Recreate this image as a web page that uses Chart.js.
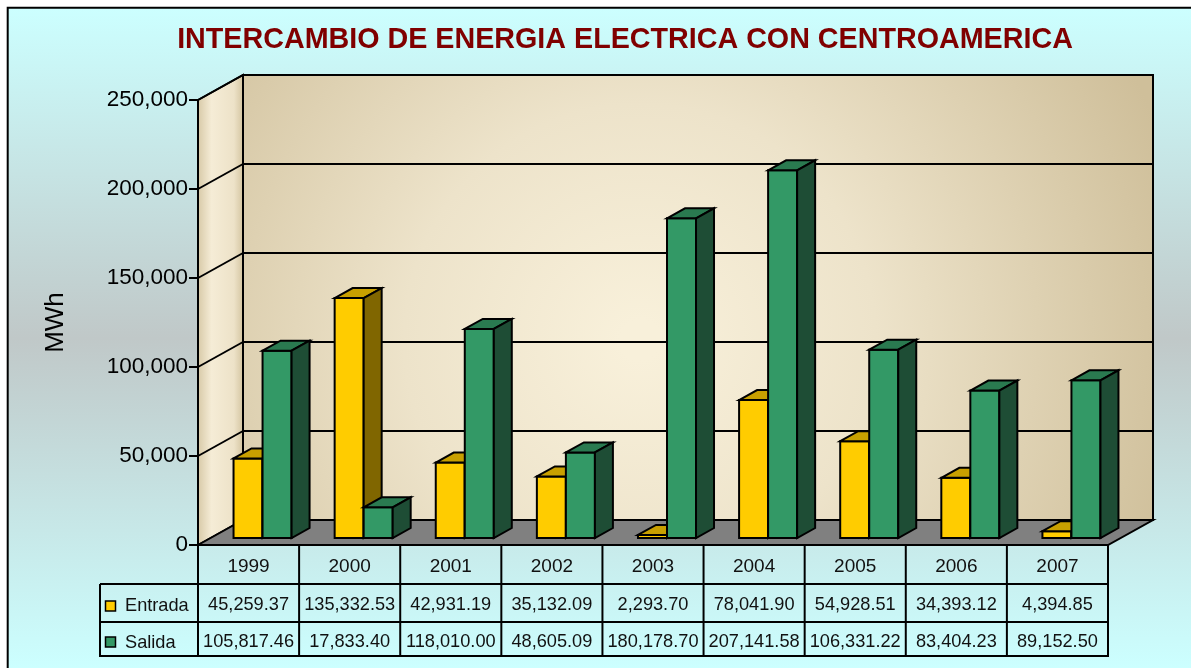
<!DOCTYPE html>
<html>
<head>
<meta charset="utf-8">
<title>Intercambio de energia electrica con Centroamerica</title>
<script src="https://cdn.jsdelivr.net/npm/chart.js@4.4.0/dist/chart.umd.min.js"></script>
<style>
  html, body { margin: 0; padding: 0; background: #fff; }
  #graphCanvas { display: block; }
</style>
</head>
<body>
<canvas id="graphCanvas" width="1191" height="668"></canvas>
<script>
// datos (MWh)
var years = ['1999', '2000', '2001', '2002', '2003', '2004', '2005', '2006', '2007'];
var entrada = [45259.37, 135332.53, 42931.19, 35132.09, 2293.70, 78041.90, 54928.51, 34393.12, 4394.85];
var salida = [105817.46, 17833.40, 118010.00, 48605.09, 180178.70, 207141.58, 106331.22, 83404.23, 89152.50];
var yTicks = [0, 50000, 100000, 150000, 200000, 250000];
var seriesNames = ['Entrada', 'Salida'];

var FONT = '"Liberation Sans", Arial, sans-serif';
// profundidad de las paredes y de las barras
var DX = 45, DY = -25;
var SX = 14, SY = -6;
var BDX = 18, BDY = -10;

var colors = [
    { front: '#FFCC00', top: '#C8A000', side: '#806600' },
    { front: '#339966', top: '#2A7A50', side: '#1E4D35' }
];

function fmt(v, dec) {
    return v.toLocaleString('en-US', { minimumFractionDigits: dec, maximumFractionDigits: dec });
}

function poly(ctx, pts, fill) {
    ctx.beginPath();
    ctx.moveTo(pts[0][0], pts[0][1]);
    for (var i = 1; i < pts.length; i++) ctx.lineTo(pts[i][0], pts[i][1]);
    ctx.closePath();
    if (fill) { ctx.fillStyle = fill; ctx.fill(); }
    ctx.stroke();
}

function line(ctx, x1, y1, x2, y2) {
    ctx.beginPath();
    ctx.moveTo(x1, y1);
    ctx.lineTo(x2, y2);
    ctx.stroke();
}

var backdrop = {
    id: 'backdrop',
    beforeDraw: function (chart) {
        var ctx = chart.ctx, W = chart.width, H = chart.height;
        var a = chart.chartArea, y = chart.scales.y;
        ctx.save();
        ctx.fillStyle = '#fff';
        ctx.fillRect(0, 0, W, H);
        var g = ctx.createLinearGradient(0, 8, 0, H);
        g.addColorStop(0, '#CCFFFF');
        g.addColorStop(0.5, '#C0C8C8');
        g.addColorStop(1, '#CCFFFF');
        ctx.fillStyle = g;
        ctx.fillRect(8, 8, W - 8, H - 8);
        ctx.strokeStyle = '#000';
        ctx.lineWidth = 2;
        ctx.beginPath();
        ctx.moveTo(7.7, H);
        ctx.lineTo(7.7, 7.7);
        ctx.lineTo(W, 7.7);
        ctx.stroke();

        var y0 = y.getPixelForValue(0), yT = y.getPixelForValue(250000);
        var xL = a.left, xR = a.right;
        ctx.lineWidth = 2;
        ctx.lineJoin = 'miter';

        // pared del fondo
        var rg = ctx.createRadialGradient(640, 340, 20, 640, 340, 560);
        rg.addColorStop(0, '#F8F0DA');
        rg.addColorStop(0.4, '#EDE3CA');
        rg.addColorStop(1, '#CFBF9A');
        poly(ctx, [[xL + DX, yT + DY], [xR + DX, yT + DY], [xR + DX, y0 + DY], [xL + DX, y0 + DY]], rg);

        // pared lateral
        var lg = ctx.createLinearGradient(xL, 0, xL + DX, 0);
        lg.addColorStop(0, '#D8CAA8');
        lg.addColorStop(0.3, '#F5ECD6');
        lg.addColorStop(0.8, '#EDE2C8');
        lg.addColorStop(1, '#D4C5A1');
        poly(ctx, [[xL, yT], [xL + DX, yT + DY], [xL + DX, y0 + DY], [xL, y0]], lg);

        // piso
        poly(ctx, [[xL, y0], [xL + DX, y0 + DY], [xR + DX, y0 + DY], [xR, y0]], '#808080');

        // lineas de division
        ctx.lineWidth = 2;
        yTicks.forEach(function (v) {
            if (v === 0) return;
            var py = y.getPixelForValue(v);
            line(ctx, xL, py, xL + DX, py + DY);
            line(ctx, xL + DX, py + DY, xR + DX, py + DY);
        });
        ctx.restore();
    },
    beforeDatasetsDraw: function (chart) {
        chart.ctx.save();
        chart.ctx.translate(SX, SY);
    },
    afterDatasetsDraw: function (chart) {
        var ctx = chart.ctx;
        var metas = [chart.getDatasetMeta(0), chart.getDatasetMeta(1)];
        ctx.lineWidth = 2;
        ctx.strokeStyle = '#000';
        ctx.lineJoin = 'miter';
        for (var i = 0; i < years.length; i++) {
            for (var d = 0; d < 2; d++) {
                var el = metas[d].data[i];
                var x1 = el.x - el.width / 2, x2 = el.x + el.width / 2;
                var top = el.y, base = el.base;
                var c = colors[d];
                poly(ctx, [[x1, base], [x1, top], [x2, top], [x2, base]], c.front);
                poly(ctx, [[x1, top], [x1 + BDX, top + BDY], [x2 + BDX, top + BDY], [x2, top]], c.top);
                poly(ctx, [[x2, top], [x2 + BDX, top + BDY], [x2 + BDX, base + BDY], [x2, base]], c.side);
            }
        }
        ctx.restore();
    },
    afterDraw: function (chart) {
        var ctx = chart.ctx, x = chart.scales.x, y = chart.scales.y;
        var a = chart.chartArea;
        var y0 = y.getPixelForValue(0);
        var cw = (a.right - a.left) / years.length;
        var r1 = y0 + 39, r2 = r1 + 38, r3 = r2 + 34;
        var legL = 100;
        ctx.save();

        // titulo
        ctx.fillStyle = '#800000';
        ctx.font = 'bold 28.7px ' + FONT;
        ctx.textAlign = 'center';
        ctx.textBaseline = 'alphabetic';
        ctx.fillText('INTERCAMBIO DE ENERGIA ELECTRICA CON CENTROAMERICA', 625, 48);

        // tabla de datos
        ctx.strokeStyle = '#000';
        ctx.lineWidth = 2;
        line(ctx, a.left, y0, a.left, r3);
        line(ctx, legL, r1, legL, r3);
        line(ctx, legL, r1, a.right, r1);
        line(ctx, legL, r2, a.right, r2);
        line(ctx, legL - 1, r3, a.right + 1, r3);
        for (var i = 0; i < years.length; i++) {
            var xr = x.getPixelForValue(i) + cw / 2;
            line(ctx, xr, y0, xr, r3);
        }

        ctx.fillStyle = '#111';
        ctx.textAlign = 'center';
        for (var j = 0; j < years.length; j++) {
            var cx = x.getPixelForValue(j);
            ctx.font = '19px ' + FONT;
            ctx.fillText(years[j], cx, y0 + 27);
            ctx.font = '18.2px ' + FONT;
            ctx.fillText(fmt(entrada[j], 2), cx, r1 + 26);
            ctx.fillText(fmt(salida[j], 2), cx, r2 + 25);
        }

        // leyenda
        ctx.textAlign = 'left';
        ctx.lineWidth = 1.5;
        ctx.font = '18.2px ' + FONT;
        [r1, r2].forEach(function (ry, k) {
            var sy = ry + (k === 0 ? 17 : 15);
            ctx.fillStyle = colors[k].front;
            ctx.fillRect(105.5, sy, 10, 10);
            ctx.strokeRect(105.5, sy, 10, 10);
            ctx.fillStyle = '#111';
            ctx.fillText(seriesNames[k], 125, ry + (k === 0 ? 27 : 26));
        });
        ctx.restore();
    }
};

var chartdata = {
    labels: years,
    datasets: [{
        label: seriesNames[0],
        data: entrada,
        backgroundColor: colors[0].front,
        borderColor: '#000',
        borderWidth: 2,
        clip: false
    }, {
        label: seriesNames[1],
        data: salida,
        backgroundColor: colors[1].front,
        borderColor: '#000',
        borderWidth: 2,
        clip: false
    }]
};

var barGraph = new Chart(document.getElementById('graphCanvas'), {
    type: 'bar',
    data: chartdata,
    options: {
        responsive: false,
        animation: false,
        devicePixelRatio: 1,
        categoryPercentage: 0.574,
        barPercentage: 1,
        layout: { padding: { left: 0, right: 83, top: 100, bottom: 123 } },
        plugins: {
            legend: { display: false },
            title: { display: false },
            tooltip: { enabled: false }
        },
        scales: {
            x: { display: false },
            y: {
                min: 0,
                max: 250000,
                afterFit: function (scale) { scale.width = 198; },
                afterBuildTicks: function (scale) {
                    scale.ticks = yTicks.map(function (v) { return { value: v }; });
                },
                ticks: {
                    color: '#000',
                    padding: 1,
                    font: { family: FONT, size: 22.5 },
                    callback: function (v) { return fmt(v, 0); }
                },
                grid: {
                    drawOnChartArea: false,
                    drawTicks: true,
                    tickLength: 9,
                    color: '#000',
                    lineWidth: 2
                },
                border: { display: true, color: '#000', width: 2 },
                title: {
                    display: true,
                    text: 'MWh',
                    color: '#000',
                    font: { family: FONT, size: 26 },
                    padding: { top: 40, bottom: 0 }
                }
            }
        }
    },
    plugins: [backdrop]
});
</script>
</body>
</html>
